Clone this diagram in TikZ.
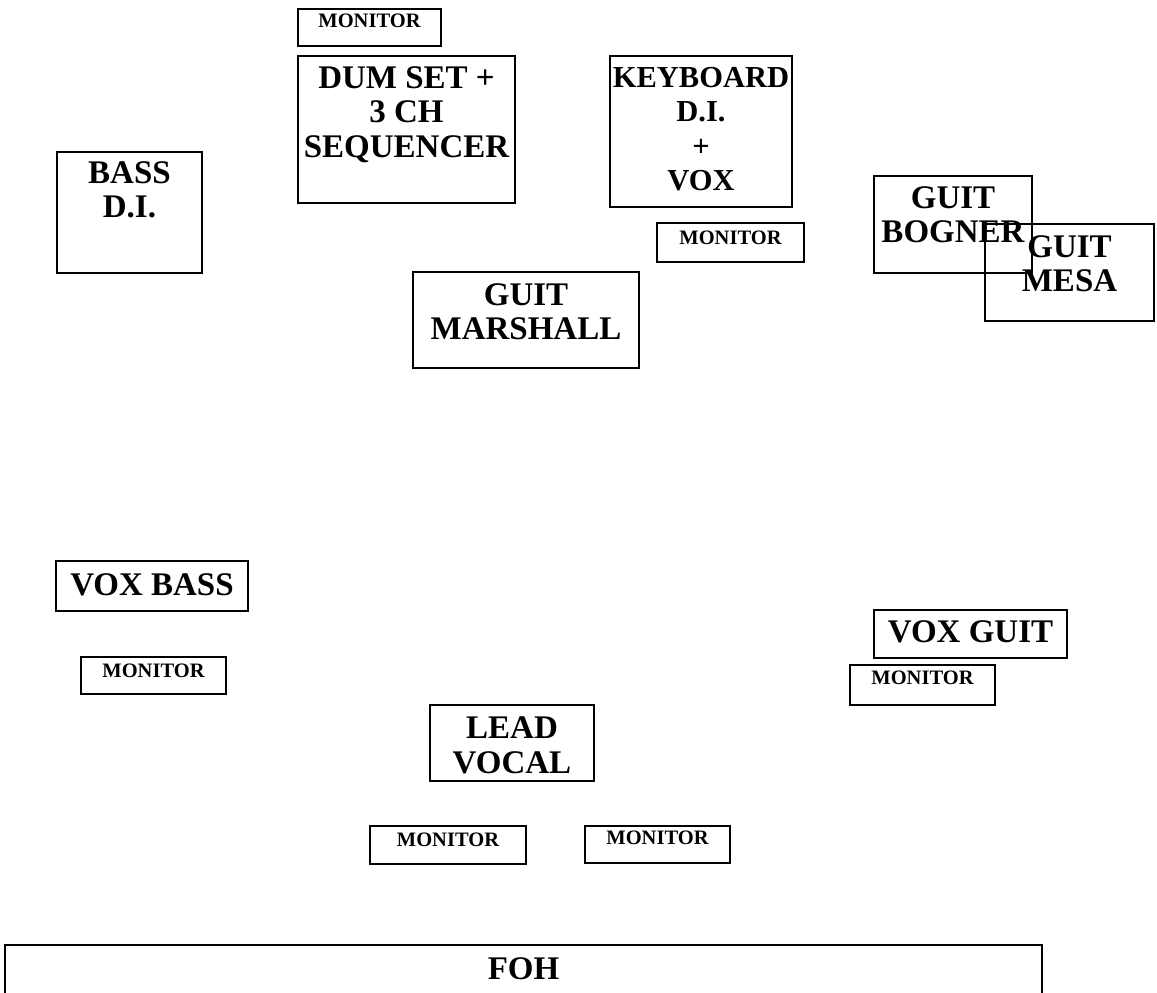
\documentclass[tikz,border=0pt]{standalone}
\usepackage{fontspec}
\setmainfont{Liberation Serif}
\usepackage{tikz}

\begin{document}
\begin{tikzpicture}[x=1pt, y=-1pt,
    stagebox/.style={draw, line width=2pt, inner sep=0pt, anchor=north west},
    bigtxt/.style={anchor=north, inner sep=0pt, align=center,
        font=\fontsize{33}{34.5}\selectfont\bfseries},
    montxt/.style={anchor=north, inner sep=0pt,
        font=\fontsize{20.5}{22}\selectfont\bfseries}]
    \useasboundingbox (0,0) rectangle (1157,993);

    % back line
    \node[stagebox, minimum width=143, minimum height=37] (mondrum) at (297,8) {};
    \node[montxt] (mondrumtxt) at ([yshift=-6pt]mondrum.north) {MONITOR};

    \node[stagebox, minimum width=217, minimum height=147] (drums) at (297,55) {};
    \node[bigtxt] (drumstxt) at ([yshift=-11pt]drums.north) {DUM SET +\\3 CH\\SEQUENCER};

    \node[stagebox, minimum width=182, minimum height=151] (keys) at (609,55) {};
    \node[bigtxt, font=\fontsize{30.5}{34.5}\selectfont\bfseries] (keystxt)
        at ([yshift=-12pt]keys.north) {KEYBOARD\\D.I.\\+\\VOX};

    \node[stagebox, minimum width=147, minimum height=39] (monkeys) at (656,222) {};
    \node[montxt] (monkeystxt) at ([yshift=-9pt]monkeys.north) {MONITOR};

    \node[stagebox, minimum width=145, minimum height=121] (bassdi) at (56,151) {};
    \node[bigtxt] (bassditxt) at ([yshift=-10pt]bassdi.north) {BASS\\D.I.};

    % guitar amps
    \node[stagebox, minimum width=158, minimum height=97] (bogner) at (873,175) {};
    \node[bigtxt] (bognertxt) at ([yshift=-11pt]bogner.north) {GUIT\\BOGNER};

    \node[stagebox, minimum width=169, minimum height=97] (mesa) at (984,223) {};
    \node[bigtxt] (mesatxt) at ([yshift=-12pt]mesa.north) {GUIT\\MESA};

    \node[stagebox, minimum width=226, minimum height=96] (marshall) at (412,271) {};
    \node[bigtxt] (marshalltxt) at ([yshift=-12pt]marshall.north) {GUIT\\MARSHALL};

    % front line
    \node[stagebox, minimum width=192, minimum height=50] (voxbass) at (55,560) {};
    \node[bigtxt] (voxbasstxt) at ([yshift=-13pt]voxbass.north) {VOX BASS};

    \node[stagebox, minimum width=145, minimum height=37] (monbass) at (80,656) {};
    \node[montxt] (monbasstxt) at ([yshift=-8pt]monbass.north) {MONITOR};

    \node[stagebox, minimum width=193, minimum height=48] (voxguit) at (873,609) {};
    \node[bigtxt] (voxguittxt) at ([yshift=-11pt]voxguit.north) {VOX GUIT};

    \node[stagebox, minimum width=145, minimum height=40] (monguit) at (849,664) {};
    \node[montxt] (monguittxt) at ([yshift=-7pt]monguit.north) {MONITOR};

    \node[stagebox, minimum width=164, minimum height=76] (lead) at (429,704) {};
    \node[bigtxt] (leadtxt) at ([yshift=-13pt]lead.north) {LEAD\\VOCAL};

    \node[stagebox, minimum width=156, minimum height=38] (monleft) at (369,825) {};
    \node[montxt] (monlefttxt) at ([yshift=-8pt]monleft.north) {MONITOR};

    \node[stagebox, minimum width=145, minimum height=37] (monright) at (584,825) {};
    \node[montxt] (monrighttxt) at ([yshift=-6pt]monright.north) {MONITOR};

    % desk, runs off the page
    \node[stagebox, minimum width=1037, minimum height=70] (foh) at (4,944) {};
    \node[bigtxt] (fohtxt) at ([yshift=-13pt]foh.north) {FOH};
\end{tikzpicture}
\end{document}
